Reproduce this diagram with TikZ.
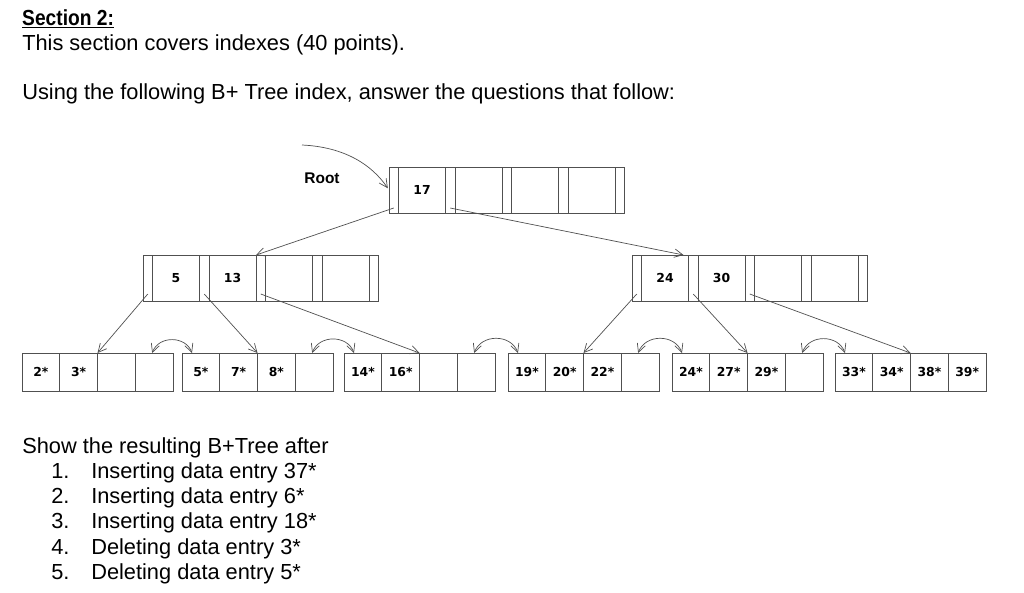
\documentclass[tikz,border=0pt]{standalone}
\usepackage{fontspec}
\setmainfont{Liberation Sans}
\newfontfamily\keyfont{DejaVu Sans}
\usetikzlibrary{arrows.meta,positioning,calc}
\definecolor{boxgray}{RGB}{80,80,80}

% one index node: name, x, y of top left corner, four keys
\newcommand{\innerbox}[7]{%
  \node[ptrslot, anchor=north west] (#1-p0) at (#2,#3) {};
  \node[keyslot, right=0pt of #1-p0] (#1-k1) {#4};
  \node[ptrslot, right=0pt of #1-k1] (#1-p1) {};
  \node[keyslot, right=0pt of #1-p1] (#1-k2) {#5};
  \node[ptrslot, right=0pt of #1-k2] (#1-p2) {};
  \node[keyslot, right=0pt of #1-p2] (#1-k3) {#6};
  \node[ptrslot, right=0pt of #1-k3] (#1-p3) {};
  \node[keyslot, right=0pt of #1-p3] (#1-k4) {#7};
  \node[ptrslot, right=0pt of #1-k4] (#1-p4) {};
}
% one leaf page: name, x of left edge, four entries
\newcommand{\leafbox}[6]{%
  \node[leafslot, anchor=north west] (#1-1) at (#2,-353) {#3};
  \node[leafslot, right=0pt of #1-1] (#1-2) {#4};
  \node[leafslot, right=0pt of #1-2] (#1-3) {#5};
  \node[leafslot, right=0pt of #1-3] (#1-4) {#6};
}

\tikzset{
  ptrslot/.style={draw=boxgray, line width=0.6pt, minimum width=0.2375cm,
    minimum height=1.15cm, inner sep=0pt, outer sep=0pt},
  keyslot/.style={ptrslot, minimum width=1.175cm,
    font=\keyfont\bfseries\fontsize{8.8}{10}\selectfont},
  leafslot/.style={ptrslot, minimum width=0.94375cm, minimum height=0.95cm,
    font=\keyfont\bfseries\fontsize{8.8}{10}\selectfont},
  ptrarrow/.style={draw=boxgray, line width=0.5pt,
    -{Straight Barb[length=6pt, width=6pt]}},
  sibarrow/.style={draw=boxgray, line width=0.5pt,
    {Straight Barb[length=6pt, width=6pt]}-{Straight Barb[length=6pt, width=6pt]}},
  txt/.style={anchor=base west, inner sep=0pt, font=\fontsize{15.5}{18}\selectfont}
}

\begin{document}
\begin{tikzpicture}[x=0.025cm, y=0.025cm]
  \useasboundingbox (0,0) rectangle (1024,-592);

  % heading
  \node[txt, xscale=0.88, font=\bfseries\fontsize{15.5}{18}\selectfont] (sec) at (22,-25) {\underline{Section 2:}};
  \node[txt] (intro) at (22,-50) {This section covers indexes (40 points).};
  \node[txt] (task) at (22,-99) {Using the following B+ Tree index, answer the questions that follow:};

  % tree
  \innerbox{r}{389}{-167}{17}{}{}{}
  \innerbox{il}{143}{-255}{5}{13}{}{}
  \innerbox{ir}{632}{-255}{24}{30}{}{}

  \leafbox{lf1}{22}{2*}{3*}{}{}
  \leafbox{lf2}{182}{5*}{7*}{8*}{}
  \leafbox{lf3}{344}{14*}{16*}{}{}
  \leafbox{lf4}{508}{19*}{20*}{22*}{}
  \leafbox{lf5}{672}{24*}{27*}{29*}{}
  \leafbox{lf6}{835}{33*}{34*}{38*}{39*}

  \node[inner sep=0pt, font=\bfseries\fontsize{11}{13}\selectfont] (rootlbl) at (322,-178) {Root};
  \coordinate (rootfrom) at (302,-145);
  \draw[ptrarrow, shorten >=1.5pt] (rootfrom) .. controls (345,-147) and (372,-165) .. (r-p0.west);

  \draw[ptrarrow] ($(r-p0.south)+(0,5)$) -- (il-k2.north east);
  \draw[ptrarrow] ($(r-p1.south)+(0,5)$) -- ($(ir-k1.north east)+(-5,0)$);

  \draw[ptrarrow] ($(il-p0.south)+(0,7)$) -- (lf1-2.north east);
  \draw[ptrarrow] ($(il-p1.south)+(0,7)$) -- (lf2-2.north east);
  \draw[ptrarrow] ($(il-p2.south)+(0,7)$) -- (lf3-2.north east);
  \draw[ptrarrow] ($(ir-p0.south)+(0,7)$) -- (lf4-2.north east);
  \draw[ptrarrow] ($(ir-p1.south)+(0,7)$) -- (lf5-2.north east);
  \draw[ptrarrow] ($(ir-p2.south)+(0,7)$) -- (lf6-2.north east);

  % sibling links
  \foreach \a/\b in {lf1/lf2, lf2/lf3, lf3/lf4, lf4/lf5, lf5/lf6}
    \draw[sibarrow] ($(\a-4.north)+(-2,0)$) to[out=70, in=110, looseness=1.2] ($(\b-1.north west)+(10,0)$);

  % questions
  \node[txt] (show) at (22,-453) {Show the resulting B+Tree after};
  \foreach \n/\q in {1/Inserting data entry 37*, 2/Inserting data entry 6*,
      3/Inserting data entry 18*, 4/Deleting data entry 3*, 5/Deleting data entry 5*} {
    \node[txt] (num-\n) at (51,{-453-25.3*\n}) {\n.};
    \node[txt] (q-\n) at (91,{-453-25.3*\n}) {\q};
  }
\end{tikzpicture}
\end{document}
